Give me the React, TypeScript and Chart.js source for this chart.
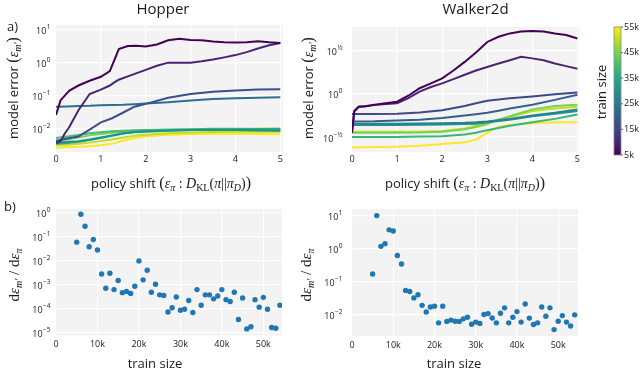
import React, { useEffect, useRef } from 'react';
import { Chart, registerables } from 'chart.js';
Chart.register(...registerables);

// ---------------- DATA ----------------
// Panel a) Hopper: model error vs policy shift
const hopperX = [0, 0.1, 0.2, 0.3, 0.5, 0.75, 1, 1.2, 1.3, 1.4, 1.6, 1.8, 2, 2.25, 2.5, 2.75, 3, 3.25, 3.5, 3.75, 4, 4.25, 4.5, 4.75, 5];
const hopperXC = [0, 0.25, 0.5, 0.75, 1, 1.25, 1.5, 1.75, 2, 2.5, 3, 3.5, 4, 4.5, 5];
const hopper5k = [0.025, 0.07, 0.1, 0.14, 0.2, 0.28, 0.37, 0.55, 1.2, 2.6, 3.2, 3.3, 3.1, 3.6, 4.8, 5.4, 4.9, 4.8, 4.4, 4.2, 4.1, 4.2, 4.5, 4.2, 4.0];
const hopper10k = [0.0035, 0.004, 0.007, 0.011, 0.035, 0.11, 0.15, 0.2, 0.25, 0.3, 0.38, 0.48, 0.6, 0.8, 1.0, 1.0, 1.0, 1.1, 1.25, 1.45, 1.7, 2.1, 2.7, 3.4, 4.0];
const hopper17k = [0.004, 0.0048, 0.0055, 0.009, 0.015, 0.02, 0.03, 0.045, 0.055, 0.085, 0.11, 0.13, 0.14, 0.15, 0.155];
const hopper23k = [0.045, 0.046, 0.047, 0.048, 0.05, 0.051, 0.052, 0.054, 0.056, 0.062, 0.07, 0.077, 0.082, 0.085, 0.087];
const hopper30k = [0.0036, 0.0038, 0.004, 0.0045, 0.0052, 0.006, 0.007, 0.0076, 0.008, 0.0085, 0.0088, 0.0088, 0.0087, 0.0085, 0.0083];
const hopper35k = [0.0033, 0.0035, 0.0038, 0.0043, 0.005, 0.0058, 0.0068, 0.0075, 0.0078, 0.0083, 0.0087, 0.009, 0.009, 0.0092, 0.0092];
const hopper40k = [0.005, 0.0055, 0.0062, 0.007, 0.0075, 0.008, 0.0083, 0.0086, 0.0088, 0.009, 0.0093, 0.0095, 0.0095, 0.0094, 0.0093];
const hopper45k = [0.0042, 0.0046, 0.0052, 0.006, 0.0066, 0.0072, 0.0078, 0.0082, 0.0085, 0.0088, 0.009, 0.0092, 0.0093, 0.0095, 0.0098];
const hopper50k = [0.003, 0.0031, 0.0033, 0.0036, 0.004, 0.0045, 0.0052, 0.0058, 0.0063, 0.007, 0.0074, 0.0076, 0.0077, 0.0078, 0.0078];
const hopper55k = [0.0025, 0.0026, 0.0027, 0.0028, 0.003, 0.0033, 0.0042, 0.005, 0.0056, 0.0063, 0.0066, 0.0067, 0.0067, 0.0066, 0.0065];

// Panel a) Walker2d
const walkerX = [0, 0.05, 0.15, 0.3, 0.5, 0.75, 1, 1.25, 1.5, 1.75, 2, 2.25, 2.5, 2.75, 3, 3.25, 3.5, 3.75, 4, 4.25, 4.5, 4.75, 5];
const walkerXC = [0, 0.5, 1, 1.5, 2, 2.5, 2.75, 3, 3.25, 3.5, 4, 4.5, 5];
const walker5k = [0.355, 0.63, 0.71, 0.72, 0.75, 0.78, 0.81, 0.95, 1.16, 1.32, 1.51, 1.86, 2.34, 3.0, 3.98, 4.57, 5.0, 5.25, 5.33, 5.25, 5.0, 4.8, 4.37];
const walker10k = [0.355, 0.63, 0.71, 0.72, 0.74, 0.76, 0.78, 0.89, 1.06, 1.2, 1.32, 1.48, 1.66, 1.86, 2.04, 2.24, 2.45, 2.69, 2.57, 2.45, 2.24, 2.09, 1.95];
const walker16k = [0.583, 0.583, 0.589, 0.61, 0.646, 0.724, 0.776, 0.832, 0.861, 0.891, 0.933, 0.989, 1.035];
const walker20k = [0.479, 0.481, 0.49, 0.501, 0.525, 0.562, 0.582, 0.603, 0.638, 0.676, 0.746, 0.851, 0.977];
const walker27k = [0.452, 0.452, 0.452, 0.455, 0.457, 0.462, 0.468, 0.479, 0.495, 0.513, 0.562, 0.603, 0.661];
const walker30k = [0.437, 0.437, 0.437, 0.439, 0.442, 0.447, 0.452, 0.468, 0.484, 0.501, 0.55, 0.589, 0.631];
const walker38k = [0.316, 0.316, 0.316, 0.32, 0.324, 0.339, 0.355, 0.38, 0.403, 0.427, 0.468, 0.513, 0.575];
const walker45k = [0.355, 0.355, 0.355, 0.356, 0.363, 0.389, 0.412, 0.447, 0.501, 0.55, 0.661, 0.724, 0.746];
const walker50k = [0.363, 0.363, 0.363, 0.365, 0.372, 0.398, 0.427, 0.468, 0.501, 0.537, 0.631, 0.676, 0.708];
const walker55k = [0.24, 0.243, 0.245, 0.251, 0.263, 0.275, 0.295, 0.355, 0.417, 0.437, 0.457, 0.468, 0.468];

// Panel b) derivative vs train size
const trainSizes = [5000, 6000, 7000, 8000, 9000, 10000, 11000, 12000, 13000, 14000, 15000, 16000, 17000, 18000, 19000, 20000, 21000, 22000, 23000, 24000, 25000, 26000, 27000, 28000, 29000, 30000, 31000, 32000, 33000, 34000, 35000, 36000, 37000, 38000, 39000, 40000, 41000, 42000, 43000, 44000, 45000, 46000, 47000, 48000, 49000, 50000, 51000, 52000, 53000, 54000];
const hopperDeriv = [0.059, 0.85, 0.27, 0.038, 0.076, 0.028, 0.0028, 0.00072, 0.003, 0.00063, 0.0015, 0.00047, 0.00053, 0.00043, 0.00087, 0.0098, 0.0016, 0.004, 0.00049, 0.00105, 0.00038, 0.00036, 0.000074, 0.00011, 0.00031, 0.000087, 0.000096, 0.00022, 0.00007, 0.00063, 0.00014, 0.00038, 0.00038, 0.00026, 0.00034, 0.00063, 0.00024, 0.0002, 0.00049, 0.000036, 0.00028, 0.0000146, 0.000018, 0.00024, 0.000117, 0.0003, 0.000096, 0.0000166, 0.0000156, 0.00014];
const walkerDeriv = [0.17, 10, 1.17, 1.41, 3.7, 3.4, 0.62, 0.34, 0.054, 0.05, 0.032, 0.04, 0.019, 0.012, 0.017, 0.018, 0.0056, 0.018, 0.0062, 0.0068, 0.0063, 0.0062, 0.0074, 0.0083, 0.0051, 0.0059, 0.0054, 0.01, 0.0107, 0.0079, 0.0056, 0.011, 0.016, 0.0056, 0.0083, 0.0123, 0.0059, 0.021, 0.0078, 0.005, 0.0056, 0.017, 0.0089, 0.016, 0.0035, 0.0063, 0.0093, 0.0059, 0.0045, 0.0098];

const hopperTopTicks = [0.01, 0.1, 1, 10];
const walkerTopTicks = [0.316228, 1, 3.162278];
const hopperBotTicks = [0.00001, 0.0001, 0.001, 0.01, 0.1, 1];
const walkerBotTicks = [0.01, 0.1, 1, 10];
const shiftTicks = [0, 1, 2, 3, 4, 5];
const sizeTicks = [0, 10000, 20000, 30000, 40000, 50000];
const colorbarTicks = [5000, 15000, 25000, 35000, 45000, 55000];

// ---------------- STYLE ----------------
const SANS = '"Open Sans", "DejaVu Sans", sans-serif';
const SERIF = '"Liberation Serif", "DejaVu Serif", serif';
const TXT = '#1a1a1a';
const BG = '#F3F3F3';
const VIRIDIS = ['#440154', '#482475', '#414487', '#355f8d', '#2a788e', '#21918c', '#22a884', '#44bf70', '#7ad151', '#bddf26', '#fde725'];

function hex(c: string) {
  return [parseInt(c.slice(1, 3), 16), parseInt(c.slice(3, 5), 16), parseInt(c.slice(5, 7), 16)];
}
function viridis(t: number) {
  const u = Math.max(0, Math.min(1, t)) * (VIRIDIS.length - 1);
  const i = Math.min(VIRIDIS.length - 2, Math.floor(u));
  const fr = u - i;
  const a = hex(VIRIDIS[i]), b = hex(VIRIDIS[i + 1]);
  const m = a.map((v, k) => Math.round(v + (b[k] - v) * fr));
  return `rgb(${m[0]},${m[1]},${m[2]})`;
}
const sizeColor = (s: number) => viridis((s - 5000) / 50000);

type Seg = { t: string; f: string; dy?: number };
function drawRich(ctx: CanvasRenderingContext2D, segs: Seg[], cx: number, cy: number, rot = false) {
  ctx.save();
  ctx.translate(cx, cy);
  if (rot) ctx.rotate(-Math.PI / 2);
  let total = 0;
  const ws = segs.map((s) => {
    ctx.font = s.f;
    const w = ctx.measureText(s.t).width;
    total += w;
    return w;
  });
  let x = -total / 2;
  ctx.textBaseline = 'alphabetic';
  ctx.textAlign = 'left';
  ctx.fillStyle = TXT;
  segs.forEach((s, i) => {
    ctx.font = s.f;
    ctx.fillText(s.t, x, 4.5 + (s.dy || 0));
    x += ws[i];
  });
  ctx.restore();
}

function drawText(ctx: CanvasRenderingContext2D, t: string, x: number, y: number, font: string, align: CanvasTextAlign = 'center') {
  ctx.save();
  ctx.font = font;
  ctx.fillStyle = TXT;
  ctx.textAlign = align;
  ctx.textBaseline = 'middle';
  ctx.fillText(t, x, y);
  ctx.restore();
}

function drawLogLabels(chart: any, xRight: number) {
  const ctx = chart.ctx as CanvasRenderingContext2D;
  const ys = chart.scales.y;
  ctx.save();
  ctx.fillStyle = TXT;
  ctx.textAlign = 'left';
  ctx.textBaseline = 'alphabetic';
  ys.ticks.forEach((t: any) => {
    const v = t.value;
    const e = Math.round(Math.log10(v) * 2) / 2;
    let es = Number.isInteger(e) ? String(Math.abs(e)) : '½';
    if (e < 0) es = '−' + es;
    const py = ys.getPixelForValue(v);
    ctx.font = `9px ${SANS}`;
    const w1 = ctx.measureText('10').width;
    ctx.font = `6.5px ${SANS}`;
    const w2 = ctx.measureText(es).width;
    const x0 = xRight - w1 - w2 - 0.5;
    ctx.font = `9px ${SANS}`;
    ctx.fillText('10', x0, py + 4.5);
    ctx.font = `6.5px ${SANS}`;
    ctx.fillText(es, x0 + w1 + 0.5, py - 0.5);
  });
  ctx.restore();
}

const bgPlugin = {
  id: 'bgArea',
  beforeDraw(chart: any) {
    const { ctx, chartArea: a } = chart;
    ctx.save();
    ctx.fillStyle = BG;
    ctx.fillRect(a.left, a.top, a.right - a.left, a.bottom - a.top);
    ctx.restore();
  },
};

const f = (size: number, fam: string, style = '') => `${style} ${size}px ${fam}`.trim();

const yLabelTop: Seg[] = [
  { t: 'model error ', f: f(13, SANS) },
  { t: '(', f: f(16, SERIF) },
  { t: 'ε', f: f(14, SERIF, 'italic') },
  { t: 'm′', f: f(10, SERIF, 'italic'), dy: 3 },
  { t: ')', f: f(16, SERIF) },
];
const xLabelTop: Seg[] = [
  { t: 'policy shift ', f: f(13, SANS) },
  { t: '(', f: f(16, SERIF) },
  { t: 'ε', f: f(14, SERIF, 'italic') },
  { t: 'π', f: f(10, SERIF, 'italic'), dy: 3 },
  { t: ' : ', f: f(14, SERIF) },
  { t: 'D', f: f(14, SERIF, 'italic') },
  { t: 'KL', f: f(10, SERIF), dy: 3 },
  { t: '(', f: f(14, SERIF) },
  { t: 'π', f: f(14, SERIF, 'italic') },
  { t: '||', f: f(14, SERIF) },
  { t: 'π', f: f(14, SERIF, 'italic') },
  { t: 'D', f: f(10, SERIF, 'italic'), dy: 3 },
  { t: ')', f: f(14, SERIF) },
  { t: ')', f: f(16, SERIF) },
];
const yLabelBot: Seg[] = [
  { t: 'd', f: f(15, SERIF) },
  { t: 'ε', f: f(15, SERIF, 'italic') },
  { t: 'm′', f: f(10, SERIF, 'italic'), dy: 3 },
  { t: ' / d', f: f(15, SERIF) },
  { t: 'ε', f: f(15, SERIF, 'italic') },
  { t: 'π', f: f(10, SERIF, 'italic'), dy: 3 },
];

function baseOptions(area: { l: number; r: number; t: number; b: number }, x: any, y: any) {
  const XH = 20;
  return {
    responsive: false,
    maintainAspectRatio: false,
    devicePixelRatio: 1,
    animation: false,
    events: [],
    layout: { padding: { left: area.l, right: 640 - area.r, top: area.t, bottom: 369 - area.b - XH } },
    plugins: { legend: { display: false }, tooltip: { enabled: false }, title: { display: false } },
    scales: {
      x: {
        type: 'linear',
        min: x.min,
        max: x.max,
        afterBuildTicks: (s: any) => { s.ticks = x.ticks.map((v: number) => ({ value: v })); },
        afterFit: (s: any) => { s.height = XH; },
        grid: { color: '#ffffff', lineWidth: 1.2, drawTicks: false },
        border: { display: false },
        ticks: {
          padding: x.pad,
          color: TXT,
          font: { size: 9, family: SANS },
          maxRotation: 0,
          autoSkip: false,
          callback: x.fmt,
        },
      },
      y: {
        type: 'logarithmic',
        min: y.min,
        max: y.max,
        afterBuildTicks: (s: any) => { s.ticks = y.ticks.map((v: number) => ({ value: v })); },
        afterFit: (s: any) => { s.width = 0; },
        grid: { color: '#ffffff', lineWidth: 1.2, drawTicks: false },
        border: { display: false },
        ticks: { display: false },
      },
    },
  };
}

const lineDs = (xs: number[], ys: number[], size: number) => ({
  data: xs.map((x, i) => ({ x, y: ys[i] })),
  borderColor: sizeColor(size),
  borderWidth: 2,
  pointRadius: 0,
  tension: 0,
  fill: false,
});

const scatterDs = (xs: number[], ys: number[]) => ({
  data: xs.map((x, i) => ({ x, y: ys[i] })),
  backgroundColor: '#1f77b4',
  borderWidth: 0,
  pointRadius: 2.7,
});

export default function App() {
  const r1 = useRef<HTMLCanvasElement>(null);
  const r2 = useRef<HTMLCanvasElement>(null);
  const r3 = useRef<HTMLCanvasElement>(null);
  const r4 = useRef<HTMLCanvasElement>(null);

  useEffect(() => {
    document.body.style.margin = '0';
    const charts: Chart[] = [];
    const fmtShift = (v: any) => String(v);
    const fmtSize = (v: any) => (v === 0 ? '0' : `${Math.round(v / 1000)}k`);

    // a) Hopper
    charts.push(new Chart(r1.current!, {
      type: 'line',
      data: {
        datasets: [
          lineDs(hopperX, hopper5k, 5000),
          lineDs(hopperX, hopper10k, 10000),
          lineDs(hopperXC, hopper17k, 17000),
          lineDs(hopperXC, hopper23k, 23000),
          lineDs(hopperXC, hopper30k, 30000),
          lineDs(hopperXC, hopper35k, 35000),
          lineDs(hopperXC, hopper40k, 40000),
          lineDs(hopperXC, hopper45k, 45000),
          lineDs(hopperXC, hopper50k, 50000),
          lineDs(hopperXC, hopper55k, 55000),
        ],
      },
      options: baseOptions({ l: 56, r: 283, t: 25, b: 152 },
        { min: 0, max: 5.06, ticks: shiftTicks, pad: 2, fmt: fmtShift },
        { min: Math.pow(10, -2.73), max: Math.pow(10, 1.15), ticks: hopperTopTicks }) as any,
      plugins: [bgPlugin, {
        id: 'ov1',
        afterDraw(chart: any) {
          const ctx = chart.ctx;
          drawLogLabels(chart, 50.5);
          drawText(ctx, 'Hopper', 163, 10, f(15, SANS));
          drawText(ctx, 'a)', 12.5, 27, f(13, SANS));
          drawRich(ctx, yLabelTop, 13, 88, true);
          drawRich(ctx, xLabelTop, 171, 183);
        },
      }],
    } as any));

    // a) Walker2d
    charts.push(new Chart(r2.current!, {
      type: 'line',
      data: {
        datasets: [
          lineDs(walkerX, walker5k, 5000),
          lineDs(walkerX, walker10k, 10000),
          lineDs(walkerXC, walker16k, 16000),
          lineDs(walkerXC, walker20k, 20000),
          lineDs(walkerXC, walker27k, 27000),
          lineDs(walkerXC, walker30k, 30000),
          lineDs(walkerXC, walker38k, 38000),
          lineDs(walkerXC, walker45k, 45000),
          lineDs(walkerXC, walker50k, 50000),
          lineDs(walkerXC, walker55k, 55000),
        ],
      },
      options: baseOptions({ l: 352, r: 579, t: 27, b: 152 },
        { min: 0, max: 5.035, ticks: shiftTicks, pad: 2, fmt: fmtShift },
        { min: Math.pow(10, -0.673), max: Math.pow(10, 0.773), ticks: walkerTopTicks }) as any,
      plugins: [bgPlugin, {
        id: 'ov2',
        afterDraw(chart: any) {
          const ctx = chart.ctx as CanvasRenderingContext2D;
          drawLogLabels(chart, 342.5);
          drawText(ctx, 'Walker2d', 475.5, 10, f(15, SANS));
          drawRich(ctx, yLabelTop, 308, 88, true);
          drawRich(ctx, xLabelTop, 465, 183);
          // colorbar
          const cx0 = 614, cx1 = 621, cy0 = 27, cy1 = 155;
          const g = ctx.createLinearGradient(0, cy1, 0, cy0);
          VIRIDIS.forEach((c, i) => g.addColorStop(i / (VIRIDIS.length - 1), c));
          ctx.save();
          ctx.fillStyle = g;
          ctx.fillRect(cx0, cy0, cx1 - cx0, cy1 - cy0);
          ctx.strokeStyle = '#8a8a8a';
          ctx.lineWidth = 0.8;
          ctx.strokeRect(cx0, cy0, cx1 - cx0, cy1 - cy0);
          ctx.strokeStyle = '#444';
          colorbarTicks.forEach((v) => {
            const py = cy1 - ((v - 5000) / 50000) * (cy1 - cy0);
            ctx.beginPath();
            ctx.moveTo(cx1, py);
            ctx.lineTo(cx1 + 2, py);
            ctx.stroke();
            drawText(ctx, `${v / 1000}k`, cx1 + 3, py, f(9, SANS), 'left');
          });
          ctx.restore();
          drawRich(ctx, [{ t: 'train size', f: f(13, SANS) }], 601, 92, true);
        },
      }],
    } as any));

    // b) Hopper
    charts.push(new Chart(r3.current!, {
      type: 'scatter',
      data: { datasets: [scatterDs(trainSizes, hopperDeriv)] },
      options: baseOptions({ l: 56, r: 282, t: 209, b: 335.5 },
        { min: 0, max: 54500, ticks: sizeTicks, pad: 4, fmt: fmtSize },
        { min: Math.pow(10, -5.11), max: Math.pow(10, 0.15), ticks: hopperBotTicks }) as any,
      plugins: [bgPlugin, {
        id: 'ov3',
        afterDraw(chart: any) {
          const ctx = chart.ctx;
          drawLogLabels(chart, 50.5);
          drawText(ctx, 'b)', 10, 207.5, f(13, SANS));
          drawRich(ctx, yLabelBot, 14, 275, true);
          drawRich(ctx, [{ t: 'train size', f: f(13, SANS) }], 155, 363);
        },
      }],
    } as any));

    // b) Walker2d
    charts.push(new Chart(r4.current!, {
      type: 'scatter',
      data: { datasets: [scatterDs(trainSizes, walkerDeriv)] },
      options: baseOptions({ l: 352, r: 578, t: 209, b: 336 },
        { min: 0, max: 54800, ticks: sizeTicks, pad: 4, fmt: fmtSize },
        { min: Math.pow(10, -2.65), max: Math.pow(10, 1.2), ticks: walkerBotTicks }) as any,
      plugins: [bgPlugin, {
        id: 'ov4',
        afterDraw(chart: any) {
          const ctx = chart.ctx;
          drawLogLabels(chart, 342.5);
          drawRich(ctx, yLabelBot, 306, 275, true);
          drawRich(ctx, [{ t: 'train size', f: f(13, SANS) }], 454, 363);
        },
      }],
    } as any));

    return () => charts.forEach((c) => c.destroy());
  }, []);

  const cs: React.CSSProperties = { position: 'absolute', left: 0, top: 0 };
  return (
    <div style={{ position: 'relative', width: 640, height: 369, background: '#ffffff' }}>
      <canvas ref={r1} width={640} height={369} style={cs} />
      <canvas ref={r2} width={640} height={369} style={cs} />
      <canvas ref={r3} width={640} height={369} style={cs} />
      <canvas ref={r4} width={640} height={369} style={cs} />
    </div>
  );
}
